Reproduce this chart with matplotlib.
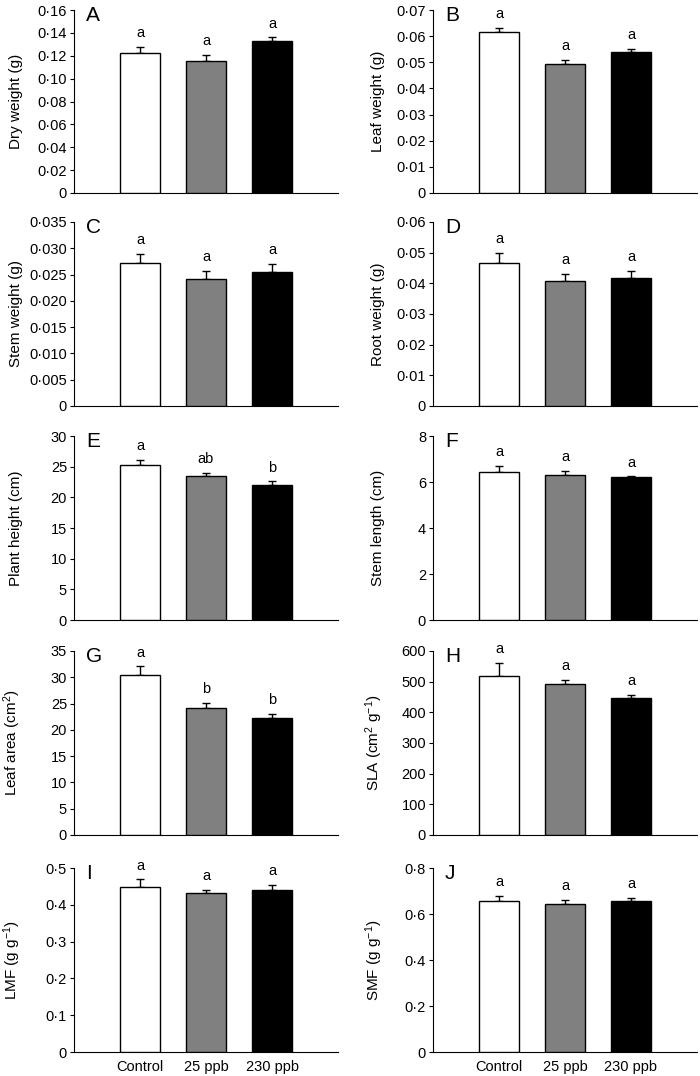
import matplotlib
matplotlib.use('Agg')
import matplotlib.pyplot as plt
from matplotlib.ticker import FuncFormatter
from matplotlib.transforms import blended_transform_factory

plt.rcParams['font.family'] = ['Liberation Sans', 'DejaVu Sans']
plt.rcParams['mathtext.fontset'] = 'custom'
plt.rcParams['mathtext.rm'] = 'Liberation Sans'
plt.rcParams['mathtext.it'] = 'Liberation Sans'

tratamientos = ['Control', '25 ppb', '230 ppb']
colores = ['white', '#808080', 'black']

paneles = ['A', 'B', 'C', 'D', 'E', 'F', 'G', 'H', 'I', 'J']
etiquetasY = ['Dry weight (g)', 'Leaf weight (g)', 'Stem weight (g)', 'Root weight (g)',
              'Plant height (cm)', 'Stem length (cm)', 'Leaf area (cm$^{2}$)',
              'SLA (cm$^{2}$ g$^{-1}$)', 'LMF (g g$^{-1}$)', 'SMF (g g$^{-1}$)']

medias = [
    [0.122, 0.115, 0.133],
    [0.0615, 0.0493, 0.0538],
    [0.0272, 0.0241, 0.0255],
    [0.0466, 0.0407, 0.0417],
    [25.3, 23.5, 22.0],
    [6.42, 6.30, 6.20],
    [30.4, 24.1, 22.3],
    [520, 492, 446],
    [0.448, 0.433, 0.440],
    [0.655, 0.645, 0.657],
]
errores = [
    [0.006, 0.006, 0.003],
    [0.0018, 0.0015, 0.0013],
    [0.0017, 0.0016, 0.0015],
    [0.0033, 0.0025, 0.0023],
    [0.8, 0.5, 0.6],
    [0.28, 0.20, 0.05],
    [1.7, 1.1, 0.7],
    [42, 13, 10],
    [0.021, 0.007, 0.014],
    [0.025, 0.016, 0.014],
]
letras = [
    ['a', 'a', 'a'], ['a', 'a', 'a'], ['a', 'a', 'a'], ['a', 'a', 'a'],
    ['a', 'ab', 'b'], ['a', 'a', 'a'], ['a', 'b', 'b'], ['a', 'a', 'a'],
    ['a', 'a', 'a'], ['a', 'a', 'a'],
]
ymax = [0.16, 0.07, 0.035, 0.06, 30, 8, 35, 600, 0.5, 0.8]
paso = [0.02, 0.01, 0.005, 0.01, 5, 2, 5, 100, 0.1, 0.2]
decimales = [2, 2, 3, 2, 0, 0, 0, 0, 1, 1]

W, H = 700, 1076
fig = plt.figure(figsize=(W / 100, H / 100), dpi=100)

filas = [(10, 193), (222, 406), (436, 620), (651, 835), (868, 1052)]
columnas = [(74, 338), (433, 697)]


def formato(d):
    def f(v, pos):
        if abs(v) < 1e-12:
            return '0'
        return ('{:.%df}' % d).format(v).replace('.', '\u00b7')
    return f


for i in range(10):
    fila = filas[i // 2]
    col = columnas[i % 2]
    ax = fig.add_axes([col[0] / W, 1 - fila[1] / H, (col[1] - col[0]) / W, (fila[1] - fila[0]) / H])
    x = list(range(3))
    ax.bar(x, medias[i], width=0.6, color=colores, edgecolor='black', linewidth=1.0, zorder=3)
    ax.errorbar(x, medias[i], yerr=[[0, 0, 0], errores[i]], fmt='none', ecolor='black',
                elinewidth=1.0, capsize=3, capthick=1.0, zorder=2)
    for j in range(3):
        ax.annotate(letras[i][j], (x[j], medias[i][j] + errores[i][j]), xytext=(0, 7),
                    textcoords='offset points', ha='center', va='baseline', fontsize=10.5)
    ax.set_xlim(-1, 3)
    ax.set_ylim(0, ymax[i])
    n = int(round(ymax[i] / paso[i]))
    ax.set_yticks([k * paso[i] for k in range(n + 1)])
    ax.yaxis.set_major_formatter(FuncFormatter(formato(decimales[i])))
    ax.spines['top'].set_visible(False)
    ax.spines['right'].set_visible(False)
    ax.tick_params(axis='y', direction='out', length=3, width=0.8, labelsize=10.5, pad=2)
    ax.tick_params(axis='x', length=0, labelsize=10.5, pad=6)
    if i >= 8:
        ax.set_xticks(x)
        ax.set_xticklabels(tratamientos)
    else:
        ax.set_xticks([])
    ax.set_ylabel(etiquetasY[i], fontsize=11)
    trans = blended_transform_factory(fig.transFigure, ax.transAxes)
    ax.yaxis.set_label_coords((23 if i % 2 == 0 else 385) / W, 0.5, transform=trans)
    ax.text(0.045, 1.02, paneles[i], transform=ax.transAxes, fontsize=15, va='top', ha='left')

fig.savefig('out.png', dpi=100)
